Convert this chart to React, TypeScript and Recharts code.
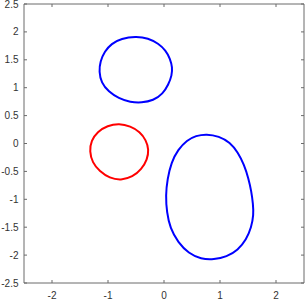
import React from "react";
import { LineChart, Line, XAxis, YAxis, ReferenceLine } from "recharts";

// Upper blue closed curve
const blueTopX = [-0.51, -0.28, -0.1, 0.03, 0.11, 0.15, 0.14, 0.08, -0.02, -0.19, -0.4, -0.6, -0.81, -0.99, -1.12, -1.16, -1.14, -1.06, -0.94, -0.76];
const blueTopY = [1.92, 1.89, 1.79, 1.67, 1.52, 1.36, 1.22, 1.06, 0.89, 0.77, 0.73, 0.74, 0.81, 0.93, 1.09, 1.29, 1.47, 1.65, 1.79, 1.88];

// Red closed curve
const redX = [-0.8, -0.6, -0.43, -0.32, -0.27, -0.3, -0.4, -0.56, -0.77, -0.97, -1.15, -1.28, -1.33, -1.3, -1.19, -1.01];
const redY = [0.36, 0.31, 0.21, 0.06, -0.11, -0.29, -0.46, -0.6, -0.66, -0.62, -0.5, -0.34, -0.14, 0.05, 0.21, 0.32];

// Lower blue (egg-shaped) closed curve
const blueLowX = [0.76, 0.98, 1.18, 1.32, 1.43, 1.51, 1.56, 1.59, 1.6, 1.56, 1.47, 1.32, 1.12, 0.89, 0.66, 0.44, 0.25, 0.11, 0.05, 0.03, 0.06, 0.13, 0.25, 0.41, 0.57];
const blueLowY = [0.17, 0.13, 0.02, -0.16, -0.38, -0.63, -0.86, -1.08, -1.28, -1.5, -1.72, -1.91, -2.03, -2.08, -2.07, -1.97, -1.77, -1.52, -1.23, -0.93, -0.64, -0.34, -0.11, 0.06, 0.14];

const xTicks = [-2, -1, 0, 1, 2];
const yTicks = [-2.5, -2, -1.5, -1, -0.5, 0, 0.5, 1, 1.5, 2, 2.5];
const domain: [number, number] = [-2.5, 2.5];

const toPoints = (xs: number[], ys: number[]) => xs.map((x, i) => ({ x, y: ys[i] }));
const blueTop = toPoints(blueTopX, blueTopY);
const red = toPoints(redX, redY);
const blueLow = toPoints(blueLowX, blueLowY);

const W = 305;
const H = 300;
const M = { top: 4, right: 1, bottom: 0, left: 0 };
const Y_AXIS_W = 24;
const X_AXIS_H = 17;
const PLOT_TOP = M.top;
const PLOT_RIGHT = W - M.right;
const AXIS_COLOR = "#6a6a6a";
const TEXT_COLOR = "#333";
const FONT = "'Liberation Sans', Arial, sans-serif";
const TICK_LEN = 3;

const XTick = (props: any) => {
  const { x, y, payload } = props;
  return (
    <g>
      <line x1={x} y1={y} x2={x} y2={y - TICK_LEN} stroke={AXIS_COLOR} />
      <line x1={x} y1={PLOT_TOP} x2={x} y2={PLOT_TOP + TICK_LEN} stroke={AXIS_COLOR} />
      <text x={x} y={y + 12} textAnchor="middle" dominantBaseline="central" fill={TEXT_COLOR} fontSize={10} fontFamily={FONT}>
        {String(payload.value)}
      </text>
    </g>
  );
};

const YTick = (props: any) => {
  const { x, y, payload } = props;
  return (
    <g>
      <line x1={x} y1={y} x2={x + TICK_LEN} y2={y} stroke={AXIS_COLOR} />
      <line x1={PLOT_RIGHT} y1={y} x2={PLOT_RIGHT - TICK_LEN} y2={y} stroke={AXIS_COLOR} />
      <text x={x - 5.5} y={y} textAnchor="end" dominantBaseline="central" fill={TEXT_COLOR} fontSize={10} fontFamily={FONT}>
        {String(payload.value)}
      </text>
    </g>
  );
};

export default function App() {
  return (
    <div style={{ position: "absolute", left: 0, top: 0, width: W, height: H, background: "#fff" }}>
      <LineChart width={W} height={H} margin={M}>
        <XAxis
          type="number"
          dataKey="x"
          domain={domain}
          ticks={xTicks}
          interval={0}
          height={X_AXIS_H}
          tickSize={0}
          tickMargin={0}
          tickLine={false}
          axisLine={{ stroke: AXIS_COLOR }}
          tick={<XTick />}
          allowDataOverflow
        />
        <YAxis
          type="number"
          dataKey="y"
          domain={domain}
          ticks={yTicks}
          interval={0}
          width={Y_AXIS_W}
          tickSize={0}
          tickMargin={0}
          tickLine={false}
          axisLine={{ stroke: AXIS_COLOR }}
          tick={<YTick />}
          allowDataOverflow
        />
        <ReferenceLine y={2.5} stroke={AXIS_COLOR} />
        <ReferenceLine x={2.5} stroke={AXIS_COLOR} />
        <Line data={blueTop} dataKey="y" type="basisClosed" stroke="#0000ff" strokeWidth={2} dot={false} isAnimationActive={false} />
        <Line data={red} dataKey="y" type="basisClosed" stroke="#ff0000" strokeWidth={2} dot={false} isAnimationActive={false} />
        <Line data={blueLow} dataKey="y" type="basisClosed" stroke="#0000ff" strokeWidth={2} dot={false} isAnimationActive={false} />
      </LineChart>
    </div>
  );
}
